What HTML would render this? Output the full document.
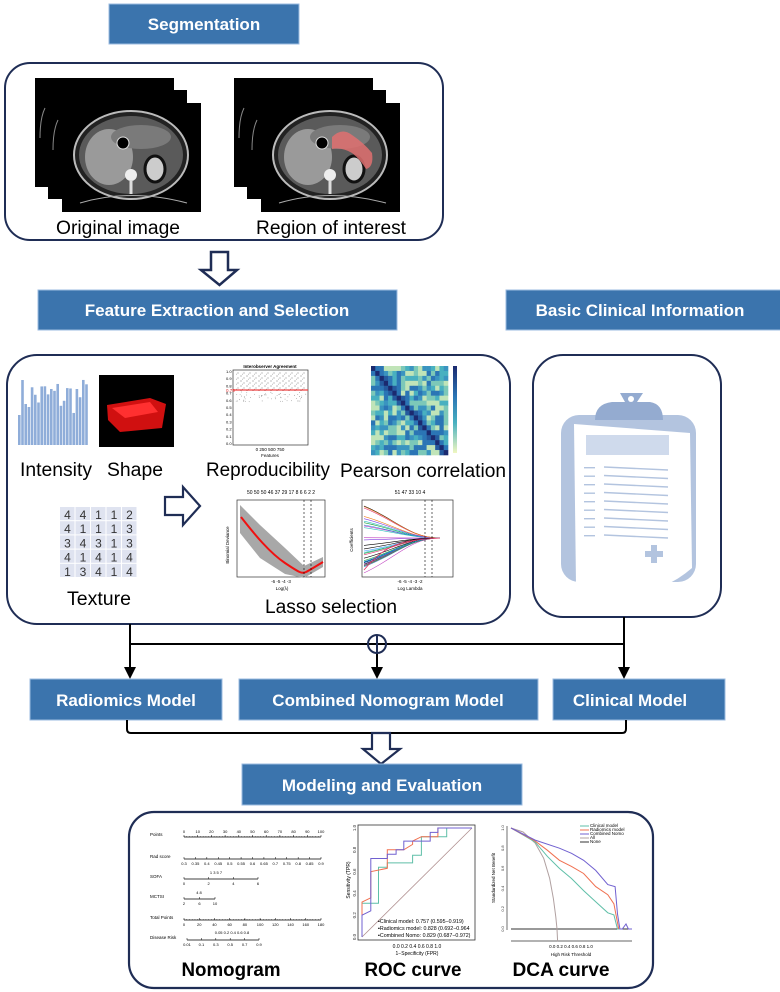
<!DOCTYPE html>
<html><head><meta charset="utf-8"><style>
html,body{margin:0;padding:0;background:#fff;}
svg{display:block;font-family:"Liberation Sans",sans-serif;}
.bt{fill:#fff;font-weight:bold;font-size:17px;text-anchor:middle;}
.lb{fill:#000;font-size:19px;text-anchor:middle;}
.bl{fill:#000;font-size:19px;font-weight:bold;text-anchor:middle;}
</style></head><body>
<svg id="s" width="780" height="992" viewBox="0 0 780 992" xmlns="http://www.w3.org/2000/svg">
<defs>
<pattern id="dots" width="6" height="5" patternUnits="userSpaceOnUse"><circle cx="1" cy="1" r="0.5" fill="#555"/><circle cx="4" cy="3" r="0.5" fill="#666"/><circle cx="2.5" cy="4.2" r="0.4" fill="#888"/></pattern>
<linearGradient id="cb" x1="0" y1="0" x2="0" y2="1"><stop offset="0" stop-color="#1b2a6f"/><stop offset="0.35" stop-color="#2b75b5"/><stop offset="0.65" stop-color="#48b0c0"/><stop offset="1" stop-color="#f0f7c0"/></linearGradient>
</defs>
<rect x="109" y="4" width="190" height="40" fill="#3b74ad" stroke="#9bbbe0"/>
<text class="bt" x="204" y="30">Segmentation</text>
<rect x="5" y="63" width="438" height="177" rx="25" fill="none" stroke="#1f2d55" stroke-width="2"/>
<g id="ct1"></g>
<text class="lb" x="118" y="234" textLength="124" lengthAdjust="spacingAndGlyphs">Original image</text>
<text class="lb" x="331" y="234" textLength="150" lengthAdjust="spacingAndGlyphs">Region of interest</text>
<path d="M211,252 H228 V270 H237 L219.5,285 L201,270 H211 Z" fill="#fff" stroke="#1f2d55" stroke-width="2.5"/>
<rect x="38" y="290" width="359" height="40" fill="#3b74ad" stroke="#9bbbe0"/>
<text class="bt" x="217" y="316">Feature Extraction and Selection</text>
<rect x="506" y="290" width="276" height="40" fill="#3b74ad" stroke="#9bbbe0"/>
<text class="bt" x="640" y="316">Basic Clinical Information</text>
<rect x="7" y="355" width="503" height="269" rx="30" fill="none" stroke="#1f2d55" stroke-width="2"/>
<g id="bars"></g>
<rect x="99" y="375" width="75" height="72" fill="#000"/>
<path d="M107,405 L150,398 L166,404 L162,428 L120,432 L108,420 Z" fill="#d01010"/>
<path d="M112,408 L150,402 L158,412 L125,418 Z" fill="#ff3030"/>
<text class="lb" x="56" y="476" textLength="72" lengthAdjust="spacingAndGlyphs">Intensity</text>
<text class="lb" x="135" y="476" textLength="56" lengthAdjust="spacingAndGlyphs">Shape</text>
<text x="270" y="368" font-size="4.5" font-weight="bold" text-anchor="middle">Interobserver Agreement</text>
<rect x="233" y="370" width="75" height="75" fill="#fff" stroke="#333" stroke-width="0.7"/>
<rect x="236" y="372" width="70" height="19" fill="url(#dots)"/>
<line x1="233" y1="390" x2="308" y2="390" stroke="#f04040" stroke-width="1.2"/>
<text x="226" y="392" font-size="4.5" fill="#e03030">0.75</text>
<g id="rtick"></g>
<text x="270" y="457" font-size="4.5" text-anchor="middle">Features</text>
<text x="270" y="451" font-size="4.5" text-anchor="middle">0        250        500        750</text>
<g id="heat"></g>
<rect x="453" y="366" width="4" height="87" fill="url(#cb)"/>
<text class="lb" x="268" y="476" textLength="124" lengthAdjust="spacingAndGlyphs">Reproducibility</text>
<text class="lb" x="423" y="477" textLength="166" lengthAdjust="spacingAndGlyphs">Pearson correlation</text>
<path d="M165,497 H183 V487 L200,506 L183,525 V515 H165 Z" fill="#fff" stroke="#1f2d55" stroke-width="2.2"/>
<g id="tex"></g>
<text class="lb" x="99" y="605" textLength="64" lengthAdjust="spacingAndGlyphs">Texture</text>
<text x="281" y="494" font-size="5" text-anchor="middle">50 50 50 46 37 29 17  8  6  6  2  2</text>
<rect x="237" y="500" width="88" height="77" fill="#fff" stroke="#333" stroke-width="0.7"/>
<path d="M240,505 L260,525 L285,548 L304,566 L323,557 L323,567 L304,578 L285,574 L260,558 L240,533 Z" fill="#a8a8a8"/>
<path d="M241,517 C255,535 270,553 285,563 S302,574 306,572 S318,565 323,562" fill="none" stroke="#f01010" stroke-width="2"/>
<line x1="304" y1="500" x2="304" y2="577" stroke="#000" stroke-width="0.6" stroke-dasharray="2,2"/>
<line x1="311" y1="500" x2="311" y2="577" stroke="#000" stroke-width="0.6" stroke-dasharray="2,2"/>
<text x="229" y="545" font-size="4.5" transform="rotate(-90 229 545)" text-anchor="middle">Binomial Deviance</text>
<text x="281" y="583" font-size="4.5" text-anchor="middle">-6       -5       -4       -3</text>
<text x="282" y="590" font-size="4.5" text-anchor="middle">Log(λ)</text>
<text x="410" y="494" font-size="5" text-anchor="middle">51          47          33          10          4</text>
<rect x="362" y="500" width="91" height="77" fill="#fff" stroke="#333" stroke-width="0.7"/>
<g id="coef"></g>
<line x1="425" y1="500" x2="425" y2="577" stroke="#000" stroke-width="0.6" stroke-dasharray="2,2"/>
<line x1="432" y1="500" x2="432" y2="577" stroke="#000" stroke-width="0.6" stroke-dasharray="2,2"/>
<text x="353" y="540" font-size="4.5" transform="rotate(-90 353 540)" text-anchor="middle">Coefficients</text>
<text x="410" y="583" font-size="4.5" text-anchor="middle">-6       -5       -4       -3       -2</text>
<text x="410" y="590" font-size="4.5" text-anchor="middle">Log Lambda</text>
<text class="lb" x="331" y="613" textLength="132" lengthAdjust="spacingAndGlyphs">Lasso selection</text>
<rect x="533" y="355" width="188" height="262" rx="30" fill="none" stroke="#1f2d55" stroke-width="2"/>
<rect x="561" y="415" width="135" height="167" rx="18" fill="#b3c4df"/>
<path d="M595,420 Q595,404 612,402 L625,402 L620,393 L643,393 L637,402 L650,402 Q663,404 663,420 Z" fill="#94abd0"/>
<circle cx="631" cy="399" r="3" fill="#fff"/>
<path d="M574,424 L690,433 L692,568 Q678,580 665,585 L576,585 Z" fill="#fff"/>
<rect x="586" y="435" width="83" height="20" fill="#cfdaec"/>
<g id="clines"></g>
<path d="M651,545 h6 v6 h6 v6 h-6 v6 h-6 v-6 h-6 v-6 h6 z" fill="#b3c4df"/>
<line x1="130" y1="624" x2="130" y2="668" stroke="#000" stroke-width="2"/>
<path d="M124,667 L136,667 L130,679 Z" fill="#000"/>
<line x1="130" y1="644" x2="624" y2="644" stroke="#000" stroke-width="2"/>
<line x1="624" y1="617" x2="624" y2="668" stroke="#000" stroke-width="2"/>
<path d="M618,667 L630,667 L624,679 Z" fill="#000"/>
<line x1="377" y1="644" x2="377" y2="668" stroke="#000" stroke-width="2"/>
<path d="M371,667 L383,667 L377,679 Z" fill="#000"/>
<circle cx="377" cy="644" r="9" fill="none" stroke="#1f2d55" stroke-width="2"/>
<line x1="377" y1="635" x2="377" y2="653" stroke="#1f2d55" stroke-width="2"/>
<rect x="30" y="679" width="192" height="41" fill="#3b74ad" stroke="#9bbbe0"/>
<text class="bt" x="126" y="706">Radiomics Model</text>
<rect x="239" y="679" width="299" height="41" fill="#3b74ad" stroke="#9bbbe0"/>
<text class="bt" x="388" y="706">Combined Nomogram Model</text>
<rect x="553" y="679" width="172" height="41" fill="#3b74ad" stroke="#9bbbe0"/>
<text class="bt" x="630" y="706">Clinical Model</text>
<path d="M127,720 V729 Q127,733 131,733 H622 Q626,733 626,729 V720" fill="none" stroke="#000" stroke-width="2"/>
<path d="M372,733 H390 V749 H400 L381,764 L363,749 H372 Z" fill="#fff" stroke="#1f2d55" stroke-width="2.2"/>
<rect x="242" y="764" width="280" height="41" fill="#3b74ad" stroke="#9bbbe0"/>
<text class="bt" x="382" y="791">Modeling and Evaluation</text>
<rect x="129" y="812" width="524" height="176" rx="25" fill="none" stroke="#1f2d55" stroke-width="2.2"/>
<g id="nomo"></g>
<rect x="358" y="825" width="117" height="115" fill="#fff" stroke="#333" stroke-width="0.8"/>
<line x1="362" y1="937" x2="472" y2="828" stroke="#b09090" stroke-width="0.8"/>
<g id="roc" fill="none" stroke-width="1"></g>
<text x="378" y="923" font-size="5.3">▪Clinical model: 0.757 (0.595−0.919)</text>
<text x="378" y="930" font-size="5.3">▪Radiomics model: 0.828 (0.692−0.964</text>
<text x="378" y="937" font-size="5.3">▪Combined Nomo: 0.829 (0.687−0.972)</text>
<text x="350" y="880" font-size="5" transform="rotate(-90 350 880)" text-anchor="middle">Sensitivity (TPR)</text>
<text x="417" y="955" font-size="5" text-anchor="middle">1−Specificity (FPR)</text>
<text x="417" y="948" font-size="5" text-anchor="middle">0.0      0.2      0.4      0.6      0.8      1.0</text>
<line x1="507" y1="826" x2="507" y2="930" stroke="#333" stroke-width="0.7"/>
<line x1="511" y1="941" x2="632" y2="941" stroke="#333" stroke-width="0.7"/>
<g id="dca" fill="none" stroke-width="1"></g>
<text x="590" y="827" font-size="4.5">Clinical model</text>
<text x="590" y="831" font-size="4.5">Radiomics model</text>
<text x="590" y="835" font-size="4.5">Combined Nomo</text>
<text x="590" y="839" font-size="4.5">All</text>
<text x="590" y="843" font-size="4.5">None</text>
<line x1="580" y1="826" x2="589" y2="826" stroke="#5fbfa8"/><line x1="580" y1="830" x2="589" y2="830" stroke="#f07050"/><line x1="580" y1="834" x2="589" y2="834" stroke="#7060d0"/><line x1="580" y1="838" x2="589" y2="838" stroke="#b0a0a0"/><line x1="580" y1="842" x2="589" y2="842" stroke="#333"/>
<text x="495" y="878" font-size="4.5" transform="rotate(-90 495 878)" text-anchor="middle">Standardized Net Benefit</text>
<text x="571" y="948" font-size="4.5" text-anchor="middle">0.0       0.2       0.4       0.6       0.8       1.0</text>
<text x="571" y="956" font-size="4.5" text-anchor="middle">High Risk Threshold</text>
<text class="bl" x="231" y="976" textLength="99" lengthAdjust="spacingAndGlyphs">Nomogram</text>
<text class="bl" x="413" y="976" textLength="97" lengthAdjust="spacingAndGlyphs">ROC curve</text>
<text class="bl" x="561" y="976" textLength="97" lengthAdjust="spacingAndGlyphs">DCA curve</text>
</svg>
<script>
var NS="http://www.w3.org/2000/svg";
function el(p,t,a,txt){var e=document.createElementNS(NS,t);for(var k in a)e.setAttribute(k,a[k]);if(txt!=null)e.textContent=txt;document.getElementById(p).appendChild(e);return e;}
var seed=7;function r(){seed=(seed*16807)%2147483647;return seed/2147483647;}
function ct(x0,roi){
 [[0,0],[13,12],[27,25]].forEach(function(o,i){
  var x=x0+o[0],y=78+o[1];
  el('ct1','rect',{x:x,y:y,width:139,height:109,fill:'#000'});
  if(i<2){el('ct1','path',{d:'M'+(x+5)+','+(y+60)+' q0,-20 5,-30',stroke:'#888',fill:'none','stroke-width':1});}
  if(i==2){
   var cx=x+69,cy=y+52;
   el('ct1','ellipse',{cx:cx,cy:cy,rx:57,ry:44,fill:'#222',stroke:'#bbb','stroke-width':2});
   el('ct1','ellipse',{cx:cx,cy:cy,rx:52,ry:39,fill:'#5a5a5a'});
   el('ct1','ellipse',{cx:cx-22,cy:cy+2,rx:24,ry:28,fill:'#9a9a9a'});
   el('ct1','ellipse',{cx:cx+10,cy:cy-18,rx:30,ry:12,fill:'#7a7a7a'});
   el('ct1','circle',{cx:cx-8,cy:cy-12,r:6,fill:'#000',stroke:'#ddd','stroke-width':1});
   el('ct1','ellipse',{cx:cx+24,cy:cy+14,rx:10,ry:13,fill:'#ccc',stroke:'#111','stroke-width':3});
   el('ct1','circle',{cx:cx,cy:cy+20,r:6,fill:'#eee'});
   el('ct1','rect',{x:cx-1.5,y:cy+25,width:3,height:14,fill:'#ddd'});
   el('ct1','path',{d:'M'+(x+18)+','+(y+100)+' Q'+cx+','+(y+85)+' '+(x+125)+','+(y+100),stroke:'#aaa',fill:'none'});
   if(roi)el('ct1','path',{d:'M'+(cx+2)+','+(cy-18)+' q10,-10 20,-2 q12,8 20,18 q2,14 -6,16 q-6,-10 -14,-16 q-10,-6 -20,-4 z',fill:'#e07070',opacity:0.85});
  }
 });
}
ct(35,false);ct(234,true);
for(var i=0;i<22;i++){var h=30+r()*38;el('bars','rect',{x:18+i*3.2,y:445-h,width:2.6,height:h,fill:'#8fadd9'});}
['1.0','0.9','0.8','0.7','0.6','0.5','0.4','0.3','0.2','0.1','0.0'].forEach(function(t,i){el('rtick','text',{x:226,y:373+i*7.2,'font-size':4},t);});
for(i=0;i<60;i++){el('rtick','circle',{cx:236+r()*70,cy:392+r()*10,r:0.4,fill:'#777'});}
var n=18,cw=77/n,ch=89/n;var cols=['#1b2a6f','#245a9e','#2b75b5','#3a94c0','#48b0c0','#7cc8b8','#c0e4b8','#f0f7c0'];
for(var a=0;a<n;a++)for(var b=0;b<n;b++){var v=(a==b)?0:(Math.abs(a-b)<2?1+Math.floor(r()*2):2+Math.floor(r()*5));el('heat','rect',{x:371+b*cw,y:366+a*ch,width:cw+0.3,height:ch+0.3,fill:cols[v]});}
var g=[[4,4,1,1,2],[4,1,1,1,3],[3,4,3,1,3],[4,1,4,1,4],[1,3,4,1,4]];
for(a=0;a<5;a++)for(b=0;b<5;b++){el('tex','rect',{x:60+b*15.5,y:507+a*14.2,width:14.5,height:13.2,fill:'#dfe3f0'});el('tex','text',{x:67.5+b*15.5,y:519+a*14.2,'font-size':12,'text-anchor':'middle',fill:'#333'},g[a][b]);}
var cc=['#000','#c040c0','#20a040','#2080d0','#e03070','#30c0c0','#8040e0','#f08020','#000','#40a0ff'];
for(i=0;i<34;i++){var y0=505+r()*70;if(i==0)y0=506;var col=cc[i%cc.length];
 el('coef','path',{d:'M364,'+y0.toFixed(1)+' C395,'+(y0*0.6+538*0.4).toFixed(1)+' 410,538 440,538',stroke:col,fill:'none','stroke-width':0.6});}
el('coef','path',{d:'M364,570 C385,545 400,540 440,538',stroke:'#e03060',fill:'none','stroke-width':0.8});
for(i=0;i<9;i++){var yy=467+i*8.5;el('clines','rect',{x:584,y:yy,width:11,height:1.4,fill:'#b3c4df'});el('clines','path',{d:'M604,'+yy+' L668,'+(yy+3),stroke:'#b3c4df','stroke-width':1.4});}
var rows=[['Points',837,184,321,'0 10 20 30 40 50 60 70 80 90 100',-1],['Rad score',859,184,321,'0.3 0.35 0.4 0.45 0.5 0.55 0.6 0.65 0.7 0.75 0.8 0.85 0.9',1],['SOFA',879,184,258,'0 2 4 6',1],['MCTSI',899,184,215,'2 6 10',1],['Total Points',920,184,321,'0 20 40 60 80 100 120 140 160 180',1],['Disease Risk',940,187,259,'0.01 0.1 0.3 0.5 0.7 0.9',1]];
rows.forEach(function(R){el('nomo','text',{x:150,y:R[1]-1,'font-size':4.5},R[0]);el('nomo','line',{x1:R[2],y1:R[1],x2:R[3],y2:R[1],stroke:'#000','stroke-width':0.7});
 var L=R[4].split(' ');L.forEach(function(t,i){var x=R[2]+(R[3]-R[2])*i/(L.length-1);el('nomo','line',{x1:x,y1:R[1]-2,x2:x,y2:R[1],stroke:'#000','stroke-width':0.5});el('nomo','text',{x:x,y:R[1]+(R[5]>0?6:-4),'font-size':4,'text-anchor':'middle'},t);});
 if(R[0]=='Points'||R[0]=='Total Points')for(var k=0;k<50;k++){var x=R[2]+(R[3]-R[2])*k/50;el('nomo','line',{x1:x,y1:R[1]-1,x2:x,y2:R[1],stroke:'#000','stroke-width':0.3});}
});
el('nomo','text',{x:216,y:874,'font-size':4,'text-anchor':'middle'},'1         3         5         7');
el('nomo','text',{x:199,y:894,'font-size':4,'text-anchor':'middle'},'4      8');
el('nomo','text',{x:232,y:934,'font-size':4,'text-anchor':'middle'},'0.05   0.2 0.4 0.6  0.8');
function pl(id,pts,X,Y,col){el(id,'polyline',{points:pts.map(function(p){return X(p[0]).toFixed(1)+','+Y(p[1]).toFixed(1);}).join(' '),stroke:col});}
var RX=function(f){return 362+110*f},RY=function(s){return 937-109*s};
pl('roc',[[0,0],[0,.31],[.15,.31],[.15,.64],[.23,.64],[.23,.68],[.46,.68],[.46,.75],[.54,.75],[.54,.92],[.77,.92],[.77,1],[1,1]],RX,RY,'#5fbfa8');
pl('roc',[[0,0],[0,.32],[.08,.36],[.08,.6],[.23,.63],[.23,.8],[.38,.8],[.46,.85],[.46,.88],[.54,.92],[.69,.92],[.69,1],[1,1]],RX,RY,'#f07050');
pl('roc',[[0,0],[0,.2],[.08,.24],[.08,.72],[.23,.72],[.23,.76],[.31,.76],[.31,.8],[.38,.8],[.38,.88],[.62,.88],[.62,.96],[.69,.96],[.69,1],[1,1]],RX,RY,'#7060d0');
var DX=function(t){return 511+121*t},DY=function(v){return 929-101*v};
pl('dca',[[0,0],[1,0]],DX,DY,'#333');
pl('dca',[[0,1],[.1,.96],[.2,.85],[.27,.7],[.32,.5],[.35,.3],[.37,.12],[.38,0],[.385,-.12]],DX,DY,'#b0a0a0');
pl('dca',[[0,1],[.2,.86],[.3,.72],[.4,.6],[.5,.5],[.6,.38],[.7,.27],[.8,.16],[.85,.14],[.88,0],[.9,0]],DX,DY,'#5fbfa8');
pl('dca',[[0,1],[.2,.87],[.3,.78],[.4,.68],[.5,.62],[.6,.55],[.7,.42],[.8,.34],[.85,.25],[.89,0]],DX,DY,'#f07050');
pl('dca',[[0,1],[.2,.88],[.4,.8],[.5,.75],[.6,.68],[.7,.58],[.8,.44],[.86,.42],[.88,.15],[.9,0],[.92,0],[.95,.05],[.97,0],[1,0]],DX,DY,'#7060d0');
['1.0','0.8','0.6','0.4','0.2','0.0'].forEach(function(t,i){el('dca','text',{x:503,y:DY(1-i*0.2)+1,'font-size':4,transform:'rotate(-90 503 '+(DY(1-i*0.2))+')','text-anchor':'middle',fill:'#333',stroke:'none'},t);});
['1.0','0.8','0.6','0.4','0.2','0.0'].forEach(function(t,i){el('roc','text',{x:355,y:RY(1-i*0.2)+1,'font-size':4.5,transform:'rotate(-90 355 '+(RY(1-i*0.2))+')','text-anchor':'middle',fill:'#333',stroke:'none'},t);});
</script>
</body></html>
